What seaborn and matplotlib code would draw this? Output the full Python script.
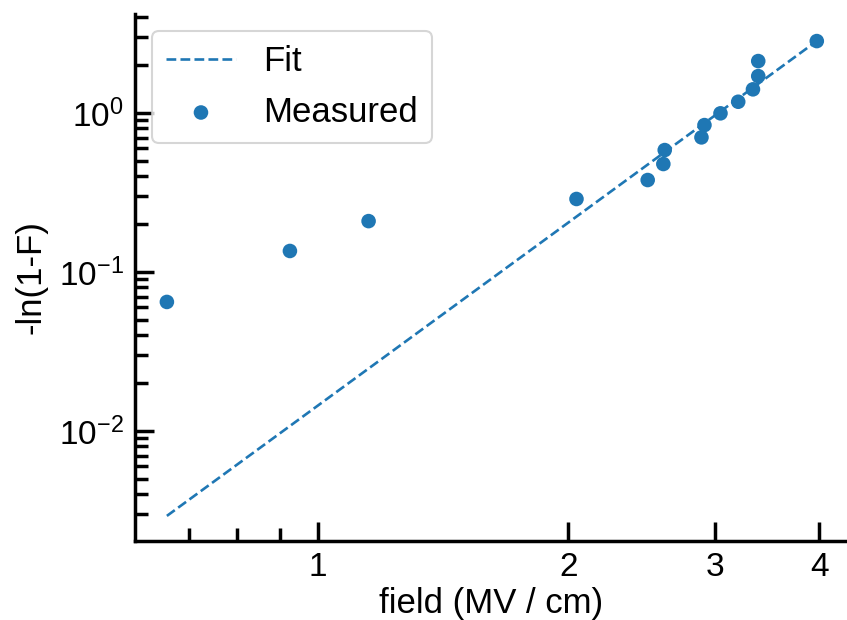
import numpy as np
import pandas as pd
import matplotlib
matplotlib.use("Agg")
import matplotlib.pyplot as plt
import matplotlib.ticker as mticker
import seaborn as sns

# Data
field_measured = [0.659, 0.926, 1.151, 2.045, 2.49, 2.60, 2.61, 2.889, 2.913,
                  3.045, 3.198, 3.331, 3.380, 3.380, 3.974]
lnF_measured = [0.0648, 0.1356, 0.209, 0.288, 0.379, 0.478, 0.585, 0.703, 0.840,
                0.996, 1.178, 1.410, 1.708, 2.124, 2.837]
field_fit = [0.659, 3.974]
lnF_fit = [0.00292, 2.84]
x_ticks = [1, 2, 3, 4]
x_ticklabels = ["1", "2", "3", "4"]

sns.set_theme(style="ticks", context="talk")
plt.rcParams["font.family"] = ["Liberation Sans", "DejaVu Sans"]
plt.rcParams["mathtext.fontset"] = "custom"
plt.rcParams["mathtext.rm"] = "Liberation Sans"
plt.rcParams["mathtext.it"] = "Liberation Sans:italic"
plt.rcParams["mathtext.bf"] = "Liberation Sans:bold"
plt.rcParams["mathtext.default"] = "regular"
for k in ["text.color", "axes.labelcolor", "xtick.color", "ytick.color", "axes.edgecolor"]:
    plt.rcParams[k] = "black"

fig = plt.figure(figsize=(8.47, 6.2), dpi=100)
ax = fig.add_axes([135/847, 1-541/620, (847-135)/847 - 0.001, (541-14)/620])

blue = "#1f77b4"
df_fit = pd.DataFrame({"x": field_fit, "y": lnF_fit})
df_meas = pd.DataFrame({"x": field_measured, "y": lnF_measured})
sns.lineplot(data=df_fit, x="x", y="y", ax=ax, color=blue, linestyle="--",
             linewidth=1.9, label="Fit")
sns.scatterplot(data=df_meas, x="x", y="y", ax=ax, color=blue, s=110,
                edgecolor="none", label="Measured")

ax.set_xscale("log")
ax.set_yscale("log")
ax.set_xlim(0.6034, 4.31)
ax.set_ylim(0.00203, 4.2)
ax.set_xticks(x_ticks)
ax.set_xticklabels(x_ticklabels)
ax.xaxis.set_minor_formatter(mticker.NullFormatter())

ax.set_xlabel("field (MV / cm)", fontsize=25, labelpad=3)
ax.set_ylabel("-ln(1-F)", fontsize=25, labelpad=8)
ax.tick_params(axis="both", which="major", direction="in", length=14, width=2.5,
               labelsize=24, pad=8)
ax.tick_params(axis="both", which="minor", direction="in", length=9.5, width=2.5)
for sp in ["left", "bottom"]:
    ax.spines[sp].set_linewidth(2.5)
sns.despine(ax=ax)

leg = ax.legend(loc="upper left", fontsize=25, frameon=True, borderpad=0.4,
                handlelength=2.0)
leg.get_frame().set_edgecolor("#cccccc")

fig.savefig("out.png", dpi=100)
